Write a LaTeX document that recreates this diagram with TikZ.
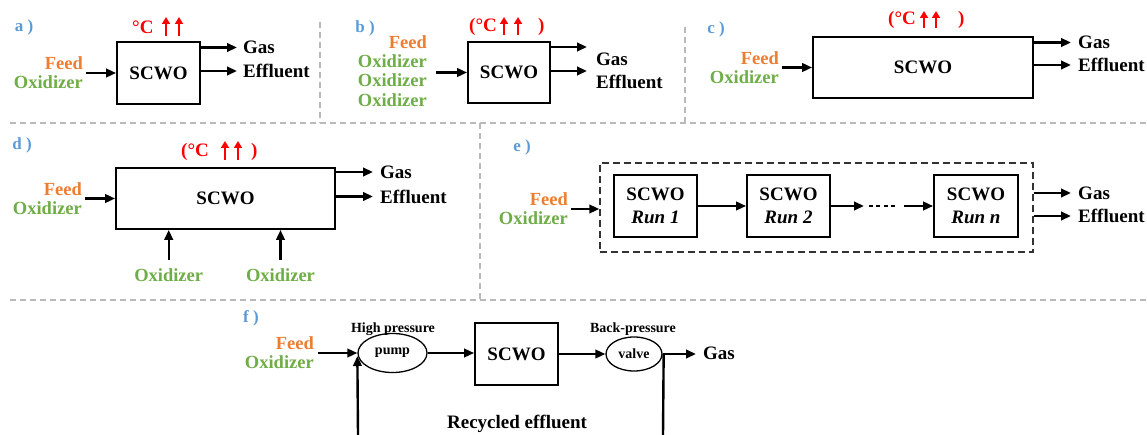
\documentclass[tikz,border=0pt]{standalone}
\usepackage{fontspec}
\setmainfont{Liberation Serif}
\usetikzlibrary{arrows.meta,shapes.geometric}
\definecolor{feedor}{HTML}{ED7D31}
\definecolor{oxgreen}{HTML}{70AD47}
\definecolor{labblue}{HTML}{5B9BD5}
\definecolor{sepgray}{RGB}{185,185,185}
\definecolor{hotred}{HTML}{FF0000}
\begin{document}
\begin{tikzpicture}[x=1pt,y=-1pt,
  lbl/.style={font=\fontsize{17}{17}\selectfont\bfseries, text=labblue, inner sep=0pt},
  big/.style={font=\fontsize{19}{20}\selectfont\bfseries, inner sep=1pt},
  inp/.style={font=\fontsize{18.5}{19.3}\selectfont\bfseries, align=right, inner sep=1pt},
  oxt/.style={font=\fontsize{18.5}{19.3}\selectfont\bfseries, text=oxgreen, inner sep=1pt},
  small/.style={font=\fontsize{14}{15}\selectfont\bfseries, inner sep=0pt},
  box/.style={draw, line width=1.8pt, font=\fontsize{19}{20}\selectfont\bfseries, inner sep=0pt},
  runbox/.style={draw, line width=1.8pt, align=center, font=\fontsize{19}{23.5}\selectfont\bfseries, inner sep=0pt, minimum height=62pt},
  ell/.style={draw, ellipse, line width=1.3pt, font=\fontsize{14}{15}\selectfont\bfseries, inner sep=0pt},
  arr/.style={line width=2.4pt, -{Triangle[length=10pt,width=8.5pt]}},
  heat/.style={hotred, line width=2.8pt, -{Triangle[length=7pt,width=8pt]}},
  sep/.style={sepgray, line width=1.2pt, dash pattern=on 6pt off 4pt},
  tmp/.style={font=\fontsize{19}{20}\selectfont\bfseries, text=hotred, inner sep=0pt}
]
\useasboundingbox (0,0) rectangle (1147,435);

% separators
\draw[sep] (10,123) -- (1147,123);
\draw[sep] (10,300) -- (1147,300);
\draw[sep] (320,22) -- (320,123);
\draw[sep] (685,27) -- (685,123);
\draw[sep] (480,123) -- (480,300);

% ---------- panel a
\node[lbl] (la) at (24,27) {a )};
\node[tmp, anchor=west] (ta) at (132,27) {°C};
\draw[heat] (166,36) -- (166,17);
\draw[heat] (179,36) -- (179,17);
\node[box, minimum width=83pt, minimum height=62pt] (sa) at (158.5,73) {SCWO};
\node[inp, anchor=east] (ia) at (84,73) {\textcolor{feedor}{Feed}\\\textcolor{oxgreen}{Oxidizer}};
\draw[arr] ([xshift=2pt]ia.east) -- (ia.east -| sa.west);
\node[big, anchor=west] (ga) at (242,47.5) {Gas};
\node[big, anchor=west] (ea) at (242,71) {Effluent};
\draw[arr] (sa.east |- ga.west) -- ([xshift=-5pt]ga.west);
\draw[arr] (sa.east |- ea.west) -- ([xshift=-5pt]ea.west);

% ---------- panel b
\node[lbl] (lb) at (365,28) {b )};
\node[tmp, anchor=west] (tb) at (469,27) {(°C};
\draw[heat] (504,35) -- (504,17);
\draw[heat] (518,35) -- (518,17);
\node[tmp, anchor=west] (tb2) at (538,27) {)};
\node[box, minimum width=82pt, minimum height=61pt] (sb) at (509,72.5) {SCWO};
\node[inp, anchor=east] (ib) at (428,71) {\textcolor{feedor}{Feed}\\\textcolor{oxgreen}{Oxidizer}\\\textcolor{oxgreen}{Oxidizer}\\\textcolor{oxgreen}{Oxidizer}};
\coordinate (ib0) at (436,72.5);
\draw[arr] (ib0) -- (sb.west);
\coordinate (gb0) at (587,47);
\coordinate (eb0) at (587,71);
\draw[arr] (sb.east |- gb0) -- (gb0);
\draw[arr] (sb.east |- eb0) -- (eb0);
\node[big, anchor=west] (gbt) at (595,59.5) {Gas};
\node[big, anchor=west] (ebt) at (595,81.5) {Effluent};

% ---------- panel c
\node[lbl] (lc) at (716,29) {c )};
\node[tmp, anchor=west] (tc) at (888,20) {(°C};
\draw[heat] (924,28) -- (924,11);
\draw[heat] (936,28) -- (936,11);
\node[tmp, anchor=west] (tc2) at (958,20) {)};
\node[box, minimum width=220pt, minimum height=61pt] (sc) at (923,67.5) {SCWO};
\node[inp, anchor=east] (ic) at (780,67.5) {\textcolor{feedor}{Feed}\\\textcolor{oxgreen}{Oxidizer}};
\draw[arr] ([xshift=2pt]ic.east) -- (ic.east -| sc.west);
\node[big, anchor=west] (gc) at (1077,42.5) {Gas};
\node[big, anchor=west] (ec) at (1077,65) {Effluent};
\draw[arr] (sc.east |- gc.west) -- ([xshift=-6pt]gc.west);
\draw[arr] (sc.east |- ec.west) -- ([xshift=-6pt]ec.west);

% ---------- panel d
\node[lbl] (ld) at (22,145) {d )};
\node[tmp, anchor=west] (td) at (181,152) {(°C};
\draw[heat] (225,160) -- (225,141);
\draw[heat] (238,160) -- (238,141);
\node[tmp, anchor=west] (td2) at (251,152) {)};
\node[box, minimum width=219pt, minimum height=61pt] (sd) at (225.5,198.5) {SCWO};
\node[inp, anchor=east] (id) at (83,198.5) {\textcolor{feedor}{Feed}\\\textcolor{oxgreen}{Oxidizer}};
\draw[arr] ([xshift=2pt]id.east) -- (id.east -| sd.west);
\node[big, anchor=west] (gd) at (379,172) {Gas};
\node[big, anchor=west] (ed) at (379,196.5) {Effluent};
\draw[arr] (sd.east |- gd.west) -- ([xshift=-6pt]gd.west);
\draw[arr] (sd.east |- ed.west) -- ([xshift=-6pt]ed.west);
\node[oxt] (od1) at (168.7,275.5) {Oxidizer};
\node[oxt] (od2) at (280.5,275.5) {Oxidizer};
\draw[arr] ([yshift=8pt]od1.north) -- (od1.north |- sd.south);
\draw[arr] ([yshift=8pt]od2.north) -- (od2.north |- sd.south);

% ---------- panel e
\node[lbl] (le) at (522,147) {e )};
\node[draw=black!80, line width=1.4pt, dash pattern=on 7pt off 4pt, minimum width=433pt, minimum height=89pt] (de) at (816.5,207.5) {};
\node[runbox, minimum width=83pt] (r1) at (655.5,206) {SCWO\\\textit{Run 1}};
\node[runbox, minimum width=83pt] (r2) at (788.5,206) {SCWO\\\textit{Run 2}};
\node[runbox, minimum width=84pt] (rn) at (976,206) {SCWO\\\textit{Run n}};
\node[inp, anchor=east] (ie) at (569,209) {\textcolor{feedor}{Feed}\\\textcolor{oxgreen}{Oxidizer}};
\draw[arr] ([xshift=2pt]ie.east) -- (ie.east -| de.west);
\draw[arr] (r1.east) -- (r2.west);
\coordinate (d1) at (864,206);
\coordinate (d2) at (869,206);
\coordinate (d3) at (897,206);
\coordinate (d4) at (904,206);
\draw[arr] (r2.east) -- (d1);
\draw[line width=2.4pt, dash pattern=on 4pt off 3.3pt] (d2) -- (d3);
\draw[arr] (d4) -- (rn.west);
\node[big, anchor=west] (ge) at (1077,193) {Gas};
\node[big, anchor=west] (ee) at (1077,216) {Effluent};
\draw[arr] (de.east |- ge.west) -- ([xshift=-6pt]ge.west);
\draw[arr] (de.east |- ee.west) -- ([xshift=-6pt]ee.west);

% ---------- panel f
\node[lbl] (lf) at (251,318) {f )};
\node[inp, anchor=east] (if) at (315,353) {\textcolor{feedor}{Feed}\\\textcolor{oxgreen}{Oxidizer}};
\node[ell, minimum width=69pt, minimum height=39pt] (pump) at (392.5,353) {pump};
\node[small, anchor=base] (hp) at (393,332) {High pressure};
\node[box, minimum width=83pt, minimum height=62pt] (sf) at (516.5,354) {SCWO};
\node[ell, minimum width=56pt, minimum height=34pt] (valve) at (634,354) {valve};
\node[small, anchor=base] (bp) at (633,332) {Back-pressure};
\node[big, anchor=west] (gf) at (702,353.5) {Gas};
\draw[arr] ([xshift=3pt]if.east) -- (if.east -| pump.west);
\draw[arr] (pump.east) -- (pump.east -| sf.west);
\draw[arr] (sf.east) -- (valve.west);
\draw[arr] (valve.east) -- ([xshift=-6pt]valve.east -| gf.west);
\coordinate (rv) at (663,435);
\coordinate (rp) at (358,435);
\draw[line width=2.4pt] ([xshift=1pt]valve.east) -- (rv);
\draw[arr] (rp) -- ([yshift=-3pt]pump.west);
\node[big, anchor=base] (re) at (517,428) {Recycled effluent};
\end{tikzpicture}
\end{document}
